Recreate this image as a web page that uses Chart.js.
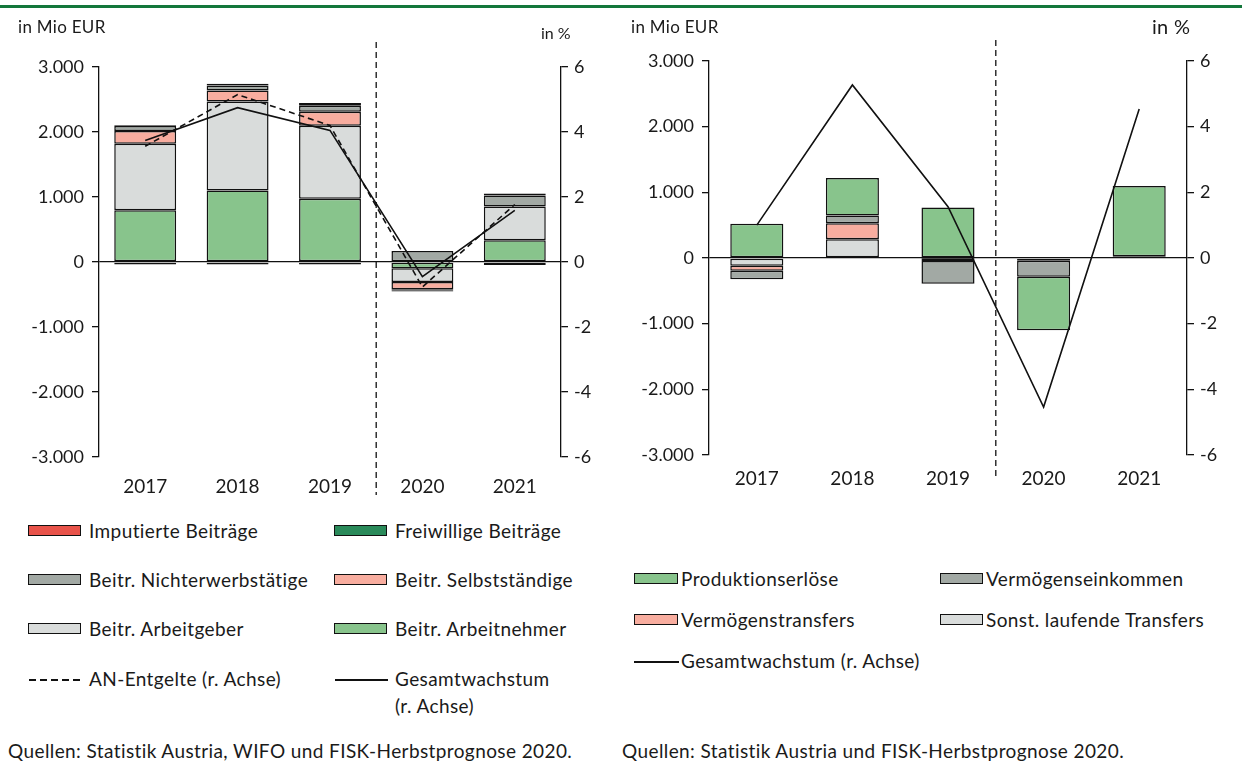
<!DOCTYPE html>
<html>
<head>
<meta charset="utf-8">
<script src="https://cdn.jsdelivr.net/npm/chart.js@4/dist/chart.umd.min.js"></script>
<style>
    body { margin: 0; background: #fff; font-family: Lato, "Open Sans", sans-serif; color: #1a1a1a; }
    #page { position: relative; width: 1242px; height: 762px; overflow: hidden; }
    #topline { position: absolute; left: 0; top: 5px; width: 1242px; height: 3px; background: #13773b; }
    .box { position: absolute; top: 0; height: 500px; }
    .lbl { position: absolute; font-size: 17px; white-space: nowrap; letter-spacing: 0.3px; }
    .leg { position: absolute; font-size: 19px; white-space: nowrap; line-height: 27px; letter-spacing: 0.4px; }
    .sw { position: absolute; height: 9px; border: 1.5px solid #111; }
    .ln { position: absolute; height: 1.5px; background: #111; }
    .dash { position: absolute; height: 1.5px; background: repeating-linear-gradient(to right, #111 0 7px, transparent 7px 11px); }
    .src { position: absolute; top: 739px; font-size: 19px; white-space: nowrap; letter-spacing: 0.4px; }
</style>
</head>
<body>
<div id="page">
    <div id="topline"></div>
    <div class="box" style="left:0;width:620px"><canvas id="chartLeft"></canvas></div>
    <div class="box" style="left:620px;width:622px"><canvas id="chartRight"></canvas></div>

    <div class="lbl" style="left:18px;top:16px">in Mio EUR</div>
    <div class="lbl" style="left:541px;top:23px;font-size:16px;letter-spacing:0">in %</div>
    <div class="lbl" style="left:631px;top:16px">in Mio EUR</div>
    <div class="lbl" style="left:1152px;top:14px;font-size:20px">in %</div>

    <div id="legendLeft"></div>
    <div id="legendRight"></div>

    <div class="src" style="left:8px">Quellen: Statistik Austria, WIFO und FISK-Herbstprognose 2020.</div>
    <div class="src" style="left:622px">Quellen: Statistik Austria und FISK-Herbstprognose 2020.</div>
</div>

<script>
// Categories
const YEARS = ['2017', '2018', '2019', '2020', '2021'];

// Left panel: Beiträge, in Mio EUR
const ARBEITNEHMER = [795, 1100, 975, -97, 333];
const ARBEITGEBER = [1025, 1370, 1120, -210, 520];
const SELBSTSTAENDIGE = [195, 170, 215, -113, 0];
const NICHTERWERB = [77, 77, 92, 170, 170];
const FREIWILLIGE = [10, 25, 45, -15, 30];
const IMPUTIERTE = [-40, -40, -40, -20, -45];
// Left panel lines, in %
const AN_ENTGELTE = [3.56, 5.15, 4.2, -0.77, 1.77];
const GESAMT_LEFT = [3.74, 4.75, 4.05, -0.45, 1.59];

// Right panel, in Mio EUR
const SONST_TRANSFERS = [-117, 286, -5, -40, 15];
const VERM_TRANSFERS = [-77, 245, -40, 0, 0];
const VERM_EINKOMMEN = [-128, 117, -347, -245, 10];
const PRODUKTION = [520, 571, 770, -816, 1070];
// Right panel line, in %
const GESAMT_RIGHT = [1.0, 5.27, 1.56, -4.54, 4.54];

// Axis ticks
const EUR_MIN = -3000, EUR_MAX = 3000, EUR_STEP = 1000;
const PCT_MIN = -6, PCT_MAX = 6, PCT_STEP = 2;

const COLORS = {
    red: '#e8534a',
    darkGreen: '#2a8a5a',
    darkGray: '#a2a9a4',
    pink: '#f8ad9f',
    lightGray: '#d9dcdb',
    green: '#88c48c'
};

const FONT = 'Lato, "Open Sans", sans-serif';
const TEXT = '#1a1a1a';

function fmtEur(v) {
    const s = Math.abs(v).toString().replace(/\B(?=(\d{3})+(?!\d))/g, '.');
    return (v < 0 ? '-' : '') + s;
}

function barSet(label, data, color, pct) {
    return {
        type: 'bar', label: label, data: data,
        backgroundColor: color, borderColor: '#111', borderWidth: 1.5,
        borderSkipped: false, yAxisID: 'y', order: 1, stack: 's',
        barPercentage: pct, categoryPercentage: 1
    };
}

function lineSet(label, data, dash) {
    return {
        type: 'line', label: label, data: data, yAxisID: 'y2', order: 0,
        borderColor: '#111', borderWidth: 1.6, borderDash: dash,
        pointRadius: 0, fill: false, tension: 0
    };
}

// dashed separator between 2019 and 2020
const separator = {
    id: 'separator',
    afterDatasetsDraw(chart, args, opts) {
        const x = chart.scales.x;
        const px = (x.getPixelForValue(2) + x.getPixelForValue(3)) / 2;
        const c = chart.ctx;
        c.save();
        c.strokeStyle = '#111';
        c.lineWidth = 1.3;
        c.setLineDash([6, 4]);
        c.beginPath();
        c.moveTo(px, chart.chartArea.top - opts.above);
        c.lineTo(px, chart.chartArea.bottom + opts.below);
        c.stroke();
        c.restore();
    }
};

function makeOptions(box) {
    return {
        responsive: false,
        animation: false,
        layout: { padding: { left: 0, right: 0, top: box.top, bottom: 0 } },
        plugins: {
            legend: { display: false },
            tooltip: { enabled: false },
            separator: { above: box.sepAbove, below: box.sepBelow }
        },
        scales: {
            x: {
                stacked: true,
                offset: true,
                grid: { display: false, drawTicks: false },
                border: { display: false },
                ticks: { color: TEXT, font: { family: FONT, size: 19 }, padding: box.xPad, maxRotation: 0 },
                afterFit: s => { s.height = box.xHeight; }
            },
            y: {
                position: 'left',
                stacked: true,
                min: EUR_MIN, max: EUR_MAX,
                ticks: { stepSize: EUR_STEP, color: TEXT, font: { family: FONT, size: 18 }, padding: 8, callback: v => fmtEur(v) },
                grid: {
                    color: c => (c.tick && c.tick.value === 0) ? '#111' : 'rgba(0,0,0,0)',
                    tickColor: '#111', tickLength: 7, lineWidth: 1.3
                },
                border: { display: true, color: '#111', width: 1.3 },
                afterFit: s => { s.width = box.yWidth; }
            },
            y2: {
                position: 'right',
                min: PCT_MIN, max: PCT_MAX,
                ticks: { stepSize: PCT_STEP, color: TEXT, font: { family: FONT, size: 18 }, padding: 6 },
                grid: { drawOnChartArea: false, color: '#111', tickColor: '#111', tickLength: 7, lineWidth: 1.3 },
                border: { display: true, color: '#111', width: 1.3 },
                afterFit: s => { s.width = box.y2Width; }
            }
        }
    };
}

function makeCanvas(id, w, h) {
    const cv = document.getElementById(id);
    cv.width = w; cv.height = h;
    cv.style.width = w + 'px'; cv.style.height = h + 'px';
    return cv;
}

// Left chart: chart area x 99..561, y 67..457
new Chart(makeCanvas('chartLeft', 620, 500), {
    data: {
        labels: YEARS,
        datasets: [
            lineSet('AN-Entgelte (r. Achse)', AN_ENTGELTE, [6, 4]),
            lineSet('Gesamtwachstum (r. Achse)', GESAMT_LEFT, []),
            barSet('Beitr. Arbeitnehmer', ARBEITNEHMER, COLORS.green, 0.67),
            barSet('Beitr. Arbeitgeber', ARBEITGEBER, COLORS.lightGray, 0.67),
            barSet('Beitr. Selbstständige', SELBSTSTAENDIGE, COLORS.pink, 0.67),
            barSet('Beitr. Nichterwerbstätige', NICHTERWERB, COLORS.darkGray, 0.67),
            barSet('Freiwillige Beiträge', FREIWILLIGE, COLORS.darkGreen, 0.67),
            barSet('Imputierte Beiträge', IMPUTIERTE, COLORS.red, 0.67)
        ]
    },
    options: makeOptions({ top: 67, xHeight: 43, xPad: 18, yWidth: 99, y2Width: 59, sepAbove: 25, sepBelow: 38 }),
    plugins: [separator]
});

// Right chart: chart area x 709..1187 (89..567 local), y 61..455
new Chart(makeCanvas('chartRight', 622, 500), {
    data: {
        labels: YEARS,
        datasets: [
            lineSet('Gesamtwachstum (r. Achse)', GESAMT_RIGHT, []),
            barSet('Sonst. laufende Transfers', SONST_TRANSFERS, COLORS.lightGray, 0.555),
            barSet('Vermögenstransfers', VERM_TRANSFERS, COLORS.pink, 0.555),
            barSet('Vermögenseinkommen', VERM_EINKOMMEN, COLORS.darkGray, 0.555),
            barSet('Produktionserlöse', PRODUKTION, COLORS.green, 0.555)
        ]
    },
    options: makeOptions({ top: 61, xHeight: 45, xPad: 12, yWidth: 89, y2Width: 55, sepAbove: 21, sepBelow: 23 }),
    plugins: [separator]
});

// Legends (HTML)
function legendItem(parent, item) {
    const sw = document.createElement('div');
    if (item.kind === 'box') {
        sw.className = 'sw';
        sw.style.background = item.color;
        sw.style.left = item.x + 'px';
        sw.style.top = (item.y - 6) + 'px';
        sw.style.width = (item.w - 3) + 'px';
    } else {
        sw.className = item.kind === 'dash' ? 'dash' : 'ln';
        sw.style.left = item.x + 'px';
        sw.style.top = item.y + 'px';
        sw.style.width = item.w + 'px';
    }
    parent.appendChild(sw);
    const t = document.createElement('div');
    t.className = 'leg';
    t.style.left = item.tx + 'px';
    t.style.top = (item.y - 14) + 'px';
    t.innerHTML = item.text;
    parent.appendChild(t);
}

const LEGEND_LEFT = [
    { kind: 'box', color: COLORS.red, text: 'Imputierte Beiträge', x: 28, w: 54, tx: 89, y: 531 },
    { kind: 'box', color: COLORS.darkGreen, text: 'Freiwillige Beiträge', x: 334, w: 54, tx: 395, y: 531 },
    { kind: 'box', color: COLORS.darkGray, text: 'Beitr. Nichterwerbstätige', x: 28, w: 54, tx: 89, y: 580 },
    { kind: 'box', color: COLORS.pink, text: 'Beitr. Selbstständige', x: 334, w: 54, tx: 395, y: 580 },
    { kind: 'box', color: COLORS.lightGray, text: 'Beitr. Arbeitgeber', x: 28, w: 54, tx: 89, y: 629 },
    { kind: 'box', color: COLORS.green, text: 'Beitr. Arbeitnehmer', x: 334, w: 54, tx: 395, y: 629 },
    { kind: 'dash', text: 'AN-Entgelte (r. Achse)', x: 29, w: 51, tx: 89, y: 679 },
    { kind: 'line', text: 'Gesamtwachstum<br>(r. Achse)', x: 335, w: 53, tx: 395, y: 679 }
];

const LEGEND_RIGHT = [
    { kind: 'box', color: COLORS.green, text: 'Produktionserlöse', x: 634, w: 45, tx: 681, y: 579 },
    { kind: 'box', color: COLORS.darkGray, text: 'Vermögenseinkommen', x: 940, w: 44, tx: 986, y: 579 },
    { kind: 'box', color: COLORS.pink, text: 'Vermögenstransfers', x: 634, w: 45, tx: 681, y: 620 },
    { kind: 'box', color: COLORS.lightGray, text: 'Sonst. laufende Transfers', x: 940, w: 44, tx: 986, y: 620 },
    { kind: 'line', text: 'Gesamtwachstum (r. Achse)', x: 634, w: 45, tx: 681, y: 661 }
];

const legendLeft = document.getElementById('legendLeft');
LEGEND_LEFT.forEach(it => legendItem(legendLeft, it));
const legendRight = document.getElementById('legendRight');
LEGEND_RIGHT.forEach(it => legendItem(legendRight, it));
</script>
</body>
</html>
